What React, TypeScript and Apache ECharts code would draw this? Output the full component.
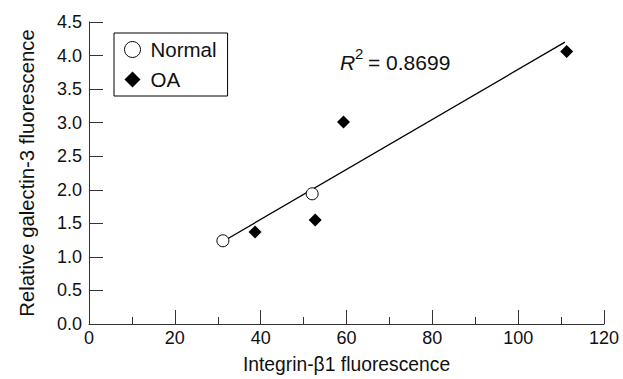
import React, { useEffect, useRef } from "react";
import * as echarts from "echarts";

const normalX = [31.2, 52.0];
const normalY = [1.24, 1.94];
const oaX = [38.7, 52.7, 59.3, 111.3];
const oaY = [1.37, 1.55, 3.01, 4.06];
const fitX = [31.2, 110.9];
const fitY = [1.23, 4.2];
const xTicks = [0, 20, 40, 60, 80, 100, 120];
const yTicks = [0, 0.5, 1, 1.5, 2, 2.5, 3, 3.5, 4, 4.5];
const r2Text = "0.8699";

const FONT = "'Liberation Sans', Arial, sans-serif";

export default function App() {
  const ref = useRef<HTMLDivElement>(null);
  useEffect(() => {
    if (!ref.current) return;
    const chart = echarts.init(ref.current, null, { renderer: "svg" });
    const zip = (xs: number[], ys: number[]) => xs.map((x, i) => [x, ys[i]]);
    chart.setOption({
      animation: false,
      backgroundColor: "#fff",
      textStyle: { fontFamily: FONT, color: "#111" },
      grid: { left: 89, right: 19, top: 22, bottom: 51 },
      legend: {
        data: ["Normal", "OA"],
        orient: "vertical",
        left: 114,
        top: 33,
        padding: [6, 11, 6, 10],
        itemGap: 9,
        itemWidth: 16,
        itemHeight: 16,
        itemStyle: { borderWidth: 1 },
        borderColor: "#000",
        borderWidth: 1,
        textStyle: { fontSize: 20.5, fontFamily: FONT, color: "#111", lineHeight: 20, padding: [0, 0, 0, 5] },
      },
      xAxis: {
        type: "value",
        min: xTicks[0],
        max: xTicks[xTicks.length - 1],
        interval: 20,
        name: "Integrin-β1 fluorescence",
        nameLocation: "middle",
        nameGap: 31,
        nameTextStyle: { fontSize: 19.3, fontFamily: FONT, color: "#111" },
        axisLine: { lineStyle: { color: "#333", width: 1 } },
        axisTick: { inside: true, length: 14, lineStyle: { color: "#333" } },
        minorTick: { show: true, splitNumber: 2, length: 7, lineStyle: { color: "#333" } },
        axisLabel: { fontSize: 18, fontFamily: FONT, color: "#111", margin: 5 },
        splitLine: { show: false },
      },
      yAxis: {
        type: "value",
        min: yTicks[0],
        max: yTicks[yTicks.length - 1],
        interval: 0.5,
        name: "Relative galectin-3 fluorescence",
        nameLocation: "middle",
        nameGap: 52,
        nameTextStyle: { fontSize: 20.3, fontFamily: FONT, color: "#111" },
        axisLine: { show: true, lineStyle: { color: "#333", width: 1 } },
        axisTick: { show: true, inside: true, length: 14, lineStyle: { color: "#333" } },
        axisLabel: {
          fontSize: 18,
          fontFamily: FONT,
          color: "#111",
          margin: 7,
          formatter: (v: number) => v.toFixed(1),
        },
        splitLine: { show: false },
      },
      graphic: [
        {
          type: "text",
          left: 340,
          top: 52,
          style: { text: "R", font: `italic 21px ${FONT}`, fill: "#111" },
        },
        {
          type: "text",
          left: 355,
          top: 46,
          style: { text: "2", font: `15px ${FONT}`, fill: "#111" },
        },
        {
          type: "text",
          left: 368,
          top: 52,
          style: { text: "= " + r2Text, font: `21px ${FONT}`, fill: "#111" },
        },
      ],
      series: [
        {
          name: "fit",
          type: "line",
          data: zip(fitX, fitY),
          symbol: "none",
          lineStyle: { color: "#000", width: 1.3 },
          z: 1,
          silent: true,
        },
        {
          name: "Normal",
          type: "scatter",
          data: zip(normalX, normalY),
          symbol: "circle",
          symbolSize: 12,
          itemStyle: { color: "#fff", borderColor: "#000", borderWidth: 1, opacity: 1 },
          z: 3,
        },
        {
          name: "OA",
          type: "scatter",
          data: zip(oaX, oaY),
          symbol: "diamond",
          symbolSize: 13,
          itemStyle: { color: "#000", opacity: 1 },
          z: 3,
        },
      ],
    });
    return () => chart.dispose();
  }, []);
  return <div ref={ref} style={{ width: 623, height: 379, position: "absolute", left: 0, top: 0 }} />;
}
